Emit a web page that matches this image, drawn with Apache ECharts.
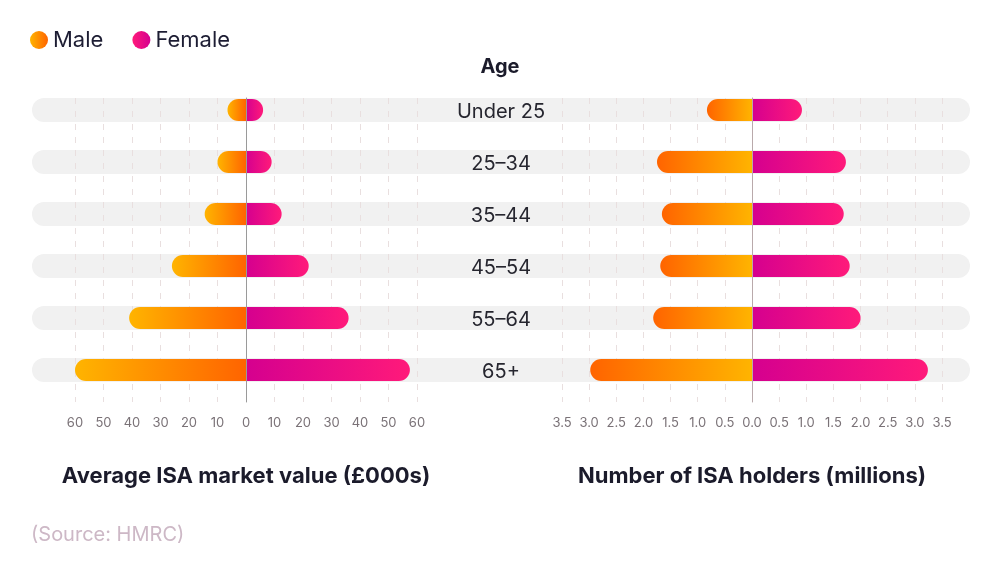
<!DOCTYPE html>
<html>
<head>
<meta charset="utf-8">
<script src="https://cdn.jsdelivr.net/npm/echarts@6/dist/echarts.min.js"></script>
<style>html,body{margin:0;padding:0;background:#fff}#c{width:1000px;height:570px}</style>
</head>
<body>
<div id="c"></div>
<script>
const categories = ['Under 25', '25–34', '35–44', '45–54', '55–64', '65+'];
const maleValue = [6.5, 10, 14.5, 26, 41, 60];
const femaleValue = [6, 9, 12.5, 22, 36, 57.5];
const maleHolders = [0.83, 1.75, 1.66, 1.69, 1.82, 2.98];
const femaleHolders = [0.92, 1.73, 1.69, 1.80, 2.00, 3.24];
const trackValues = [1, 1, 1, 1, 1, 1];

const FONT = 'Inter, "Noto Sans", sans-serif';
const G = echarts.graphic.LinearGradient;
const YEL = '#FFB400', ORA = '#FF6400', MAG = '#D5008F', PNK = '#FF1A7A';
const maleLeft = new G(0, 0, 1, 0, [{offset: 0, color: YEL}, {offset: 1, color: ORA}]);
const maleRight = new G(0, 0, 1, 0, [{offset: 0, color: ORA}, {offset: 1, color: YEL}]);
const female = new G(0, 0, 1, 0, [{offset: 0, color: MAG}, {offset: 1, color: PNK}]);
const legendMale = new G(0, 0, 1, 0, [{offset: 0, color: YEL}, {offset: 1, color: ORA}]);
const legendFemale = new G(0, 0, 1, 0, [{offset: 0, color: PNK}, {offset: 1, color: MAG}]);

const BAR_TOP = 84, BAR_H = 312, LINE_TOP = 98, LINE_H = 304;
const L = {left: 75, width: 342};
const R = {left: 562, width: 380};

const gridLine = {show: true, lineStyle: {color: '#e9dfdf', type: [6, 7], width: 1}};
const tickLabel = {color: '#7a7277', fontSize: 13, fontFamily: FONT, margin: 15};
const axisName = {fontSize: 22, fontWeight: 'bold', color: '#1b1b2b', fontFamily: FONT};

const chart = echarts.init(document.getElementById('c'));
chart.setOption({
  animation: false,
  title: [
    {text: 'Age', left: 'center', top: 57, padding: 0, textStyle: {fontSize: 20, fontWeight: 'bold', color: '#1b1b2b', fontFamily: FONT}},
    {text: '(Source: HMRC)', left: 31, top: 525, padding: 0, textStyle: {fontSize: 20, fontWeight: 'normal', color: '#cdb8c6', fontFamily: FONT}}
  ],
  legend: {
    left: 30, top: 29, padding: 0, icon: 'circle', itemWidth: 18, itemHeight: 18, itemGap: 29,
    textStyle: {fontSize: 22, color: '#1d1d33', fontFamily: FONT},
    data: [
      {name: 'Male', itemStyle: {color: legendMale}},
      {name: 'Female', itemStyle: {color: legendFemale}}
    ]
  },
  grid: [
    {left: 32, right: 30, top: BAR_TOP, height: BAR_H},
    {left: L.left, width: L.width, top: LINE_TOP, height: LINE_H},
    {left: L.left, width: L.width, top: BAR_TOP, height: BAR_H},
    {left: R.left, width: R.width, top: LINE_TOP, height: LINE_H},
    {left: R.left, width: R.width, top: BAR_TOP, height: BAR_H}
  ],
  xAxis: [
    {gridIndex: 0, type: 'value', min: 0, max: 1, show: false},
    {gridIndex: 1, type: 'value', min: -60, max: 60, interval: 10, z: 1,
      axisLine: {show: false}, axisTick: {show: false}, splitLine: gridLine,
      axisLabel: Object.assign({formatter: v => String(Math.abs(v))}, tickLabel),
      name: 'Average ISA market value (£000s)', nameLocation: 'middle', nameGap: 63, nameTextStyle: axisName},
    {gridIndex: 2, type: 'value', min: -60, max: 60, show: false},
    {gridIndex: 3, type: 'value', min: -3.5, max: 3.5, interval: 0.5, z: 1,
      axisLine: {show: false}, axisTick: {show: false}, splitLine: gridLine,
      axisLabel: Object.assign({formatter: v => Math.abs(v).toFixed(1)}, tickLabel),
      name: 'Number of ISA holders (millions)', nameLocation: 'middle', nameGap: 63, nameTextStyle: axisName},
    {gridIndex: 4, type: 'value', min: -3.5, max: 3.5, show: false}
  ],
  yAxis: [
    {gridIndex: 0, type: 'category', data: categories, inverse: true, show: false},
    {gridIndex: 1, type: 'value', min: 0, max: 1, z: 5, axisLabel: {show: false}, axisTick: {show: false}, splitLine: {show: false},
      axisLine: {show: true, onZero: true, lineStyle: {color: '#9a9a9a', width: 1}}},
    {gridIndex: 2, type: 'category', data: categories, inverse: true, show: false},
    {gridIndex: 3, type: 'value', min: 0, max: 1, z: 5, axisLabel: {show: false}, axisTick: {show: false}, splitLine: {show: false},
      axisLine: {show: true, onZero: true, lineStyle: {color: '#b9a9ab', width: 1}}},
    {gridIndex: 4, type: 'category', data: categories, inverse: true, show: false}
  ],
  series: [
    {name: 'track', type: 'bar', xAxisIndex: 0, yAxisIndex: 0, data: trackValues, barWidth: 24, z: 0, silent: true,
      itemStyle: {color: '#f1f1f1', borderRadius: 12},
      label: {show: true, position: 'inside', offset: [0, 2], formatter: '{b}', fontSize: 20, color: '#26262f', fontFamily: FONT}},
    {name: 'Male', type: 'bar', xAxisIndex: 2, yAxisIndex: 2, stack: 'l', barWidth: 22, z: 3,
      data: maleValue.map(v => -v), itemStyle: {color: maleLeft, borderRadius: [11, 0, 0, 11]}},
    {name: 'Female', type: 'bar', xAxisIndex: 2, yAxisIndex: 2, stack: 'l', barWidth: 22, z: 3,
      data: femaleValue, itemStyle: {color: female, borderRadius: [0, 11, 11, 0]}},
    {name: 'Male', type: 'bar', xAxisIndex: 4, yAxisIndex: 4, stack: 'r', barWidth: 22, z: 3,
      data: maleHolders.map(v => -v), itemStyle: {color: maleRight, borderRadius: [11, 0, 0, 11]}},
    {name: 'Female', type: 'bar', xAxisIndex: 4, yAxisIndex: 4, stack: 'r', barWidth: 22, z: 3,
      data: femaleHolders, itemStyle: {color: female, borderRadius: [0, 11, 11, 0]}}
  ]
});
</script>
</body>
</html>
